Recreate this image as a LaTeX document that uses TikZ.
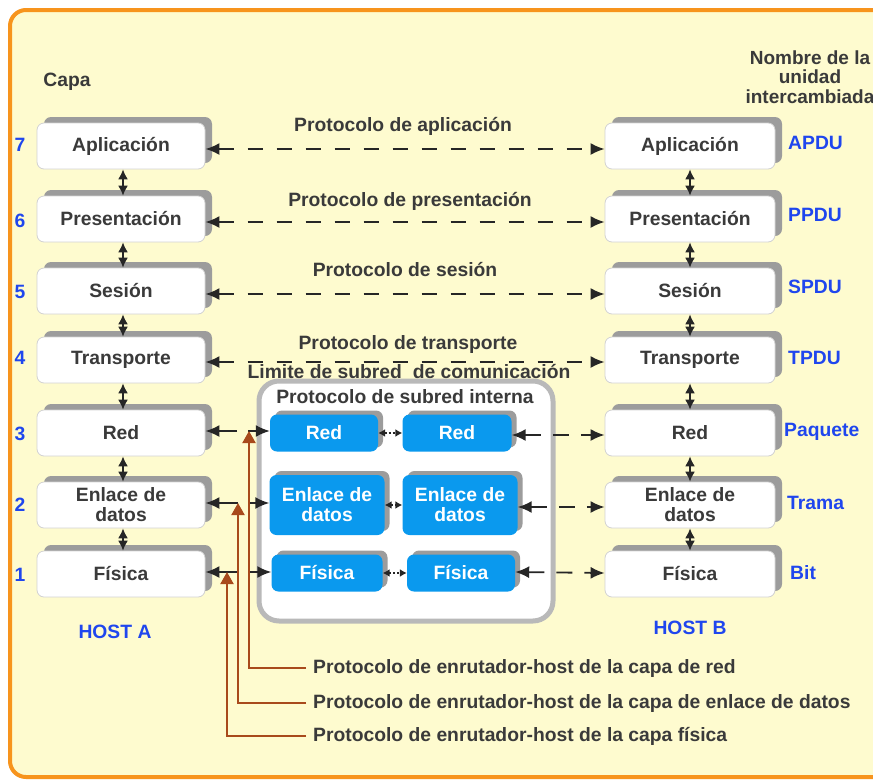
\documentclass[tikz,border=0pt]{standalone}
\usepackage{fontspec}
\setmainfont{Liberation Sans}
\usetikzlibrary{arrows.meta,shadows}

\definecolor{frameorange}{HTML}{F7941D}
\definecolor{bgyellow}{HTML}{FEFBCF}
\definecolor{txtgray}{HTML}{3A3A3A}
\definecolor{unitblue}{HTML}{1F46EE}
\definecolor{netblue}{HTML}{0A99EE}
\definecolor{shadowgray}{HTML}{9C9C9C}
\definecolor{routerbrown}{HTML}{A84A1C}

\tikzset{
  lblfont/.style={font=\fontsize{19.3}{20}\selectfont\bfseries},
  txt/.style={lblfont, text=txtgray, inner sep=0pt},
  unit/.style={lblfont, text=unitblue, inner sep=0pt},
  hostbox/.style={draw=gray!35, line width=0.8pt, fill=white, rounded corners=7pt,
    minimum width=168pt, minimum height=46pt, align=center, lblfont, text=txtgray,
    general shadow={shadow xshift=7pt, shadow yshift=6pt, fill=shadowgray, rounded corners=7pt}},
  netbox/.style={fill=netblue, rounded corners=7pt, align=center, lblfont,
    text=white, inner sep=0pt,
    general shadow={shadow xshift=5pt, shadow yshift=4pt, fill=shadowgray, rounded corners=7pt}},
  bigtip/.tip={Latex[length=14pt,width=12pt]},
  smalltip/.tip={Latex[length=10pt,width=10pt]},
  tinytip/.tip={Latex[length=7pt,width=8pt]},
  biarrow/.style={bigtip-bigtip, line width=1.8pt, black!85},
  stackarrow/.style={smalltip-smalltip, line width=1.6pt, black!85},
  protoline/.style={biarrow, dash pattern=on 15pt off 14pt},
  peerline/.style={tinytip-tinytip, line width=1.4pt, black!85, dash pattern=on 2pt off 2pt},
  hoparrow/.style={-bigtip, line width=1.8pt, black!85},
  brownline/.style={routerbrown, line width=2pt},
  brownarrow/.style={brownline, -{Triangle[length=12pt,width=13pt]}},
}

\begin{document}
\begin{tikzpicture}[x=1pt,y=-1pt]
\useasboundingbox (0,0) rectangle (873,780);
\clip (0,0) rectangle (873,780);
\fill[white] (0,0) rectangle (873,780);
\draw[frameorange, line width=4pt, fill=bgyellow, rounded corners=16pt] (10,10) rectangle (890,777);

% headings
\node[txt] (capa) at (67,82) {Capa};
\node[txt, align=center, font=\fontsize{19}{19.5}\selectfont\bfseries] (unidad) at (810,77) {Nombre de la\\unidad\\intercambiada};

% host A stack
\node[hostbox] (a7) at (121,146) {Aplicación};
\node[hostbox] (a6) at (121,219) {Presentación};
\node[hostbox] (a5) at (121,291) {Sesión};
\node[hostbox] (a4) at (121,360) {Transporte};
\node[hostbox] (a3) at (121,433) {Red};
\node[hostbox] (a2) at (121,505) {Enlace de\\datos};
\node[hostbox] (a1) at (121,574) {Física};

% host B stack
\node[hostbox, minimum width=170pt] (b7) at (690,146) {Aplicación};
\node[hostbox, minimum width=170pt] (b6) at (690,219) {Presentación};
\node[hostbox, minimum width=170pt] (b5) at (690,291) {Sesión};
\node[hostbox, minimum width=170pt] (b4) at (690,360) {Transporte};
\node[hostbox, minimum width=170pt] (b3) at (690,433) {Red};
\node[hostbox, minimum width=170pt] (b2) at (690,505) {Enlace de\\datos};
\node[hostbox, minimum width=170pt] (b1) at (690,574) {Física};

% layer numbers
\foreach \n/\y in {7/145,6/221,5/292,4/358,3/434,2/505,1/575}
  \node[unit] (num\n) at (20,\y) {\n};

% unit names
\node[unit, anchor=west] (u7) at (788,143) {APDU};
\node[unit, anchor=west] (u6) at (788,215) {PPDU};
\node[unit, anchor=west] (u5) at (788,287) {SPDU};
\node[unit, anchor=west] (u4) at (788,358) {TPDU};
\node[unit, anchor=west] (u3) at (784,432) {Paquete};
\node[unit, anchor=west] (u2) at (787,503) {Trama};
\node[unit, anchor=west] (u1) at (790,573) {Bit};

\node[unit] (hosta) at (115,632) {HOST A};
\node[unit] (hostb) at (690,628) {HOST B};

% vertical interfaces inside each host
\foreach \u/\l in {7/6,6/5,5/4,4/3,3/2,2/1}{
  \draw[stackarrow] ([xshift=2pt]a\u.south) -- ([xshift=2pt]a\l.north);
  \draw[stackarrow] (b\u.south) -- (b\l.north);
}

% peer protocols between the hosts
\draw[protoline] ([yshift=-3pt]a7.east) -- ([yshift=-3pt]b7.west);
\draw[protoline] ([yshift=-3pt]a6.east) -- ([yshift=-3pt]b6.west);
\draw[protoline] ([yshift=-3pt]a5.east) -- ([yshift=-3pt]b5.west);
\draw[protoline] ([yshift=-2pt]a4.east) -- ([yshift=-2pt]b4.west);
\node[txt] (p7) at (403,126) {Protocolo de aplicación};
\node[txt] (p6) at (410,201) {Protocolo de presentación};
\node[txt] (p5) at (405,270) {Protocolo de sesión};
\node[txt] (p4) at (408,345) {Protocolo de transporte};
\node[txt] (limite) at (409,372) {Limite de subred \ de comunicación};

% communication subnet
\node[draw=gray!55, line width=5pt, fill=white, rounded corners=20pt,
      minimum width=294pt, minimum height=240pt] (subnet) at (406,501) {};
\node[txt] (interna) at (405,397) {Protocolo de subred interna};

\node[netbox, minimum width=108pt, minimum height=37pt] (r1) at (324,433) {Red};
\node[netbox, minimum width=109pt, minimum height=37pt] (r2) at (457,433) {Red};
\node[netbox, minimum width=115pt, minimum height=60pt] (l1) at (327,505) {Enlace de\\datos};
\node[netbox, minimum width=115pt, minimum height=60pt] (l2) at (460,505) {Enlace de\\datos};
\node[netbox, minimum width=111pt, minimum height=37pt] (f1) at (327,573) {Física};
\node[netbox, minimum width=108pt, minimum height=37pt] (f2) at (461,573) {Física};

% hop between the two routers
\draw[peerline] (r1.east) -- (r2.west);
\draw[peerline] (l1.east) -- (l2.west);
\draw[peerline] (f1.east) -- (f2.west);

% router to host B
\draw[protoline, dash pattern=on 16pt off 12pt] ([yshift=-2pt]r2.east) -- ([yshift=-2pt]b3.west);
\draw[protoline, dash pattern=on 16pt off 12pt] ([yshift=-2pt]l2.east) -- ([yshift=-2pt]b2.west);
\draw[protoline, dash pattern=on 16pt off 12pt] ([yshift=1pt]f2.east) -- ([yshift=1pt]b1.west);

% host A to router
\coordinate (ra) at (237,431);
\coordinate (rb) at (248,431);
\coordinate (la) at (238,503);
\coordinate (lb) at (250,503);
\coordinate (fa) at (238,572);
\coordinate (fb) at (250,572);
\draw[hoparrow] (ra) -- (a3.east |- ra);
\draw[hoparrow] (rb) -- (r1.west |- rb);
\draw[hoparrow] (la) -- (a2.east |- la);
\draw[hoparrow] (lb) -- (l1.west |- lb);
\draw[hoparrow] (fa) -- (a1.east |- fa);
\draw[hoparrow] (fb) -- (f1.west |- fb);

% router-host protocol callouts
\node[txt, anchor=west] (cr) at (313,668) {Protocolo de enrutador-host de la capa de red};
\node[txt, anchor=west] (cl) at (313,703) {Protocolo de enrutador-host de la capa de enlace de datos};
\node[txt, anchor=west] (cf) at (313,736) {Protocolo de enrutador-host de la capa física};
\coordinate (crt) at (249,431);
\coordinate (clt) at (238,503);
\coordinate (cft) at (227,572);
\draw[brownarrow] ([xshift=-7pt]cr.west) -| (crt);
\draw[brownarrow] ([xshift=-7pt]cl.west) -| (clt);
\draw[brownarrow] ([xshift=-7pt]cf.west) -| (cft);
\end{tikzpicture}
\end{document}
